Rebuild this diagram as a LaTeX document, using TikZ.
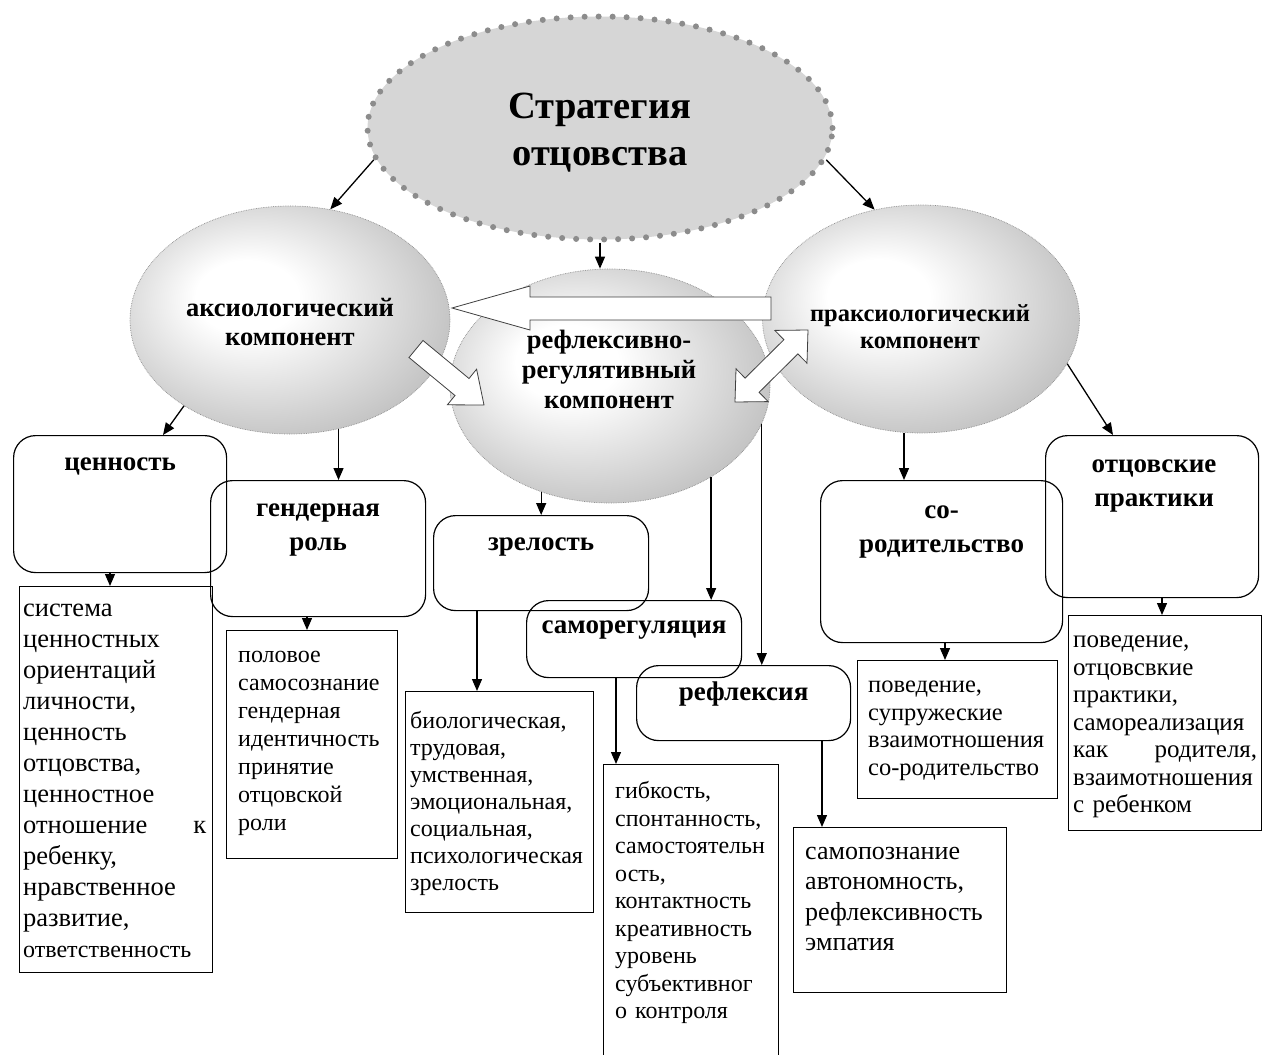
\documentclass[tikz,border=0pt]{standalone}
\usepackage{fontspec}
\setmainfont{Liberation Serif}
\usetikzlibrary{arrows.meta,shapes.geometric,calc}
\pgfdeclareradialshading{ellsh}{\pgfpoint{-8bp}{6bp}}{color(0bp)=(white); color(8bp)=(white); color(33bp)=(gray!55); color(50bp)=(gray!95)}
\newcommand\fsys{\fontsize{26.5}{31}\selectfont}
\newcommand\fpol{\fontsize{24}{28}\selectfont}
\newcommand\fbio{\fontsize{24}{27}\selectfont}
\newcommand\fgib{\fontsize{24}{27.5}\selectfont}
\newcommand\fsam{\fontsize{26}{30.5}\selectfont}
\newcommand\fpova{\fontsize{24.5}{27.7}\selectfont}
\newcommand\fpovb{\fontsize{25}{27.5}\selectfont}
\begin{document}
\begin{tikzpicture}[x=1pt,y=-1pt,
  ell/.style={ellipse, shade, shading=ellsh, draw=gray!90, densely dotted, line width=0.7pt, inner sep=0pt},
  etext/.style={align=center, inner sep=0pt},
  arr/.style={-{Triangle[length=12pt,width=10pt]}, line width=1.3pt},
  barrow/.style={fill=white, draw=black!75, line width=0.8pt, line join=miter},
  rbox/.style={draw, rounded corners=22pt, line width=1.2pt, inner sep=0pt, anchor=north west},
  dbox/.style={draw, line width=1.1pt, inner sep=0pt, anchor=north west},
  ttl/.style={font=\fontsize{27}{34}\selectfont\bfseries, align=center, inner sep=0pt},
  dtext/.style={anchor=north west, inner sep=0pt, align=left}
]
\useasboundingbox (0,0) rectangle (1262,1055);
\fill[white] (0,0) rectangle (1262,1055);

% ellipses
\node[ellipse, fill=black!16, draw=black!45, line width=6pt, dash pattern=on 0pt off 14pt, line cap=round, minimum width=465pt, minimum height=223pt, inner sep=0pt] (top) at (600,128) {};
\node[ell, minimum width=320pt, minimum height=228pt] (ax) at (290,320) {};
\node[ell, minimum width=317pt, minimum height=228pt] (pr) at (921,319) {};
\node[ell, minimum width=320pt, minimum height=234pt] (mid) at (610,386) {};

% block arrows
\draw[barrow] (771,297) -- (530,297) -- (530,286) -- (452,308) -- (530,330) -- (530,320) -- (771,320) -- cycle;
\draw[barrow] (423,340.5) -- (469,378.5) -- (476.6,369.2) -- (484,405) -- (447.4,404.8) -- (455,395.5) -- (409,357.5) -- cycle;
\draw[barrow] (735,402) -- (768.2,401.6) -- (759.1,392.3) -- (797.9,353.9) -- (807,363.2) -- (808,330) -- (774.8,330.4) -- (783.9,339.7) -- (745.1,378.1) -- (736,368.8) -- cycle;

% ellipse texts
\node[etext, font=\fontsize{38.5}{47}\selectfont\bfseries] (topT) at (600,133) {Стратегия\\отцовства};
\node[etext, font=\fontsize{26.5}{29}\selectfont\bfseries] (axT) at (290,322) {аксиологический\\компонент};
\node[etext, font=\fontsize{26.5}{30}\selectfont\bfseries] (midT) at (609,369) {рефлексивно-\\регулятивный\\компонент};
\node[etext, font=\fontsize{24.5}{27}\selectfont\bfseries] (prT) at (920,327) {праксиологический\\компонент};

% rounded boxes
\node[rbox, minimum width=213pt, minimum height=137pt] (cen) at (13,435) {};
\node[rbox, minimum width=215pt, minimum height=136pt] (gen) at (210,480) {};
\node[rbox, minimum width=215pt, minimum height=95pt] (zr) at (433,515) {};
\node[rbox, minimum width=215pt, minimum height=77pt] (sreg) at (526,600) {};
\node[rbox, minimum width=214pt, minimum height=75pt] (refl) at (636,665) {};
\node[rbox, minimum width=242pt, minimum height=162pt] (sor) at (820,480) {};
\node[rbox, minimum width=213pt, minimum height=162pt] (otc) at (1045,435) {};

\node[ttl] (cenT) at ([yshift=-31pt]cen.north) {ценность};
\node[ttl] (genT) at ([yshift=-50pt]gen.north) {гендерная\\роль};
\node[ttl] (zrT) at ([yshift=-32pt]zr.north) {зрелость};
\node[ttl] (sregT) at ([yshift=-30pt]sreg.north) {саморегуляция};
\node[ttl] (reflT) at ([yshift=-29pt]refl.north) {рефлексия};
\node[ttl] (sorT) at ([yshift=-52pt]sor.north) {со-\\родительство};
\node[ttl] (otcT) at ([xshift=2pt,yshift=-51pt]otc.north) {отцовские\\практики};

% detail boxes
\node[dbox, minimum width=193pt, minimum height=386pt] (sys) at (19,586) {};
\node[dbox, minimum width=171pt, minimum height=228pt] (pol) at (226,630) {};
\node[dbox, minimum width=188pt, minimum height=221pt] (bio) at (405,691) {};
\node[dbox, minimum width=175pt, minimum height=300pt] (gib) at (603,764) {};
\node[dbox, minimum width=213pt, minimum height=165pt] (samp) at (793,827) {};
\node[dbox, minimum width=200pt, minimum height=138pt] (pov1) at (857,660) {};
\node[dbox, minimum width=193pt, minimum height=215pt] (pov2) at (1068,615) {};

\node[dtext, font=\fsys, text width=183pt] (sysT) at ([xshift=4pt,yshift=-8.3pt]sys.north west) {\strut система\\ценностных\\ориентаций\\личности,\\ценность\\отцовства,\\ценностное\\отношение\hfill к\\ребенку,\\нравственное\\развитие,\\{\fontsize{24}{31}\selectfont ответственность}};
\node[dtext, font=\fpol, text width=155pt] (polT) at ([xshift=12pt,yshift=-13pt]pol.north west) {\strut половое\\самосознание\\гендерная\\идентичность\\принятие\\отцовской\\роли};
\node[dtext, font=\fbio, text width=182pt] (bioT) at ([xshift=5pt,yshift=-18.6pt]bio.north west) {\strut биологическая,\\трудовая,\\умственная,\\эмоциональная,\\социальная,\\психологическая\\зрелость};
\node[dtext, font=\fgib, text width=160pt] (gibT) at ([xshift=12pt,yshift=-15.2pt]gib.north west) {\strut гибкость,\\спонтанность,\\самостоятельн\\ость,\\контактность\\креативность\\уровень\\субъективног\\о~контроля};
\node[dtext, font=\fsam, text width=198pt] (sampT) at ([xshift=12pt,yshift=-10.6pt]samp.north west) {\strut самопознание\\автономность,\\рефлексивность\\эмпатия};
\node[dtext, font=\fpova, text width=186pt] (pov1T) at ([xshift=11pt,yshift=-13pt]pov1.north west) {\strut поведение,\\супружеские\\взаимотношения\\со-родительство};
\node[dtext, font=\fpovb, text width=184pt] (pov2T) at ([xshift=5pt,yshift=-13.5pt]pov2.north west) {\strut поведение,\\отцовсвкие\\практики,\\самореализация\\как\hfill родителя,\\взаимотношения\\с~ребенком};

% connectors
\draw[arr] (top.188) -- (ax.70);
\draw[arr] (top.-8) -- (pr.113);
\draw[arr] (top.south) -- (top.south |- mid.north);
\draw[arr] (ax.219) -- ([xshift=150pt]cen.north west);
\draw[arr] (ax.-66) -- (ax.-66 |- gen.north);
\draw[arr] (mid.-123) -- (mid.-123 |- zr.north);
\draw[arr] (mid.-42) -- (mid.-42 |- sreg.north);
\draw[arr] (mid.-14.4) -- (mid.-14.4 |- refl.north);
\coordinate (pS) at ([xshift=-17pt]pr.south);
\draw[arr] (pS) -- (pS |- sor.north);
\draw[arr] (pr.-17) -- ([xshift=68pt]otc.north west);

\coordinate (c1) at ([xshift=97pt]cen.south west);
\coordinate (c2) at ([xshift=97pt]gen.south west);
\coordinate (c3) at ([xshift=44pt]zr.south west);
\coordinate (c4) at ([xshift=90pt]sreg.south west);
\coordinate (c5) at ([xshift=186pt]refl.south west);
\coordinate (c6) at ([xshift=125pt]sor.south west);
\coordinate (c7) at ([xshift=117pt]otc.south west);
\draw[arr] (c1) -- (c1 |- sys.north);
\draw[arr] (c2) -- (c2 |- pol.north);
\draw[arr] (c3) -- (c3 |- bio.north);
\draw[arr] (c4) -- (c4 |- gib.north);
\draw[arr] (c5) -- (c5 |- samp.north);
\draw[arr] (c6) -- (c6 |- pov1.north);
\draw[arr] (c7) -- (c7 |- pov2.north);
\end{tikzpicture}
\end{document}
